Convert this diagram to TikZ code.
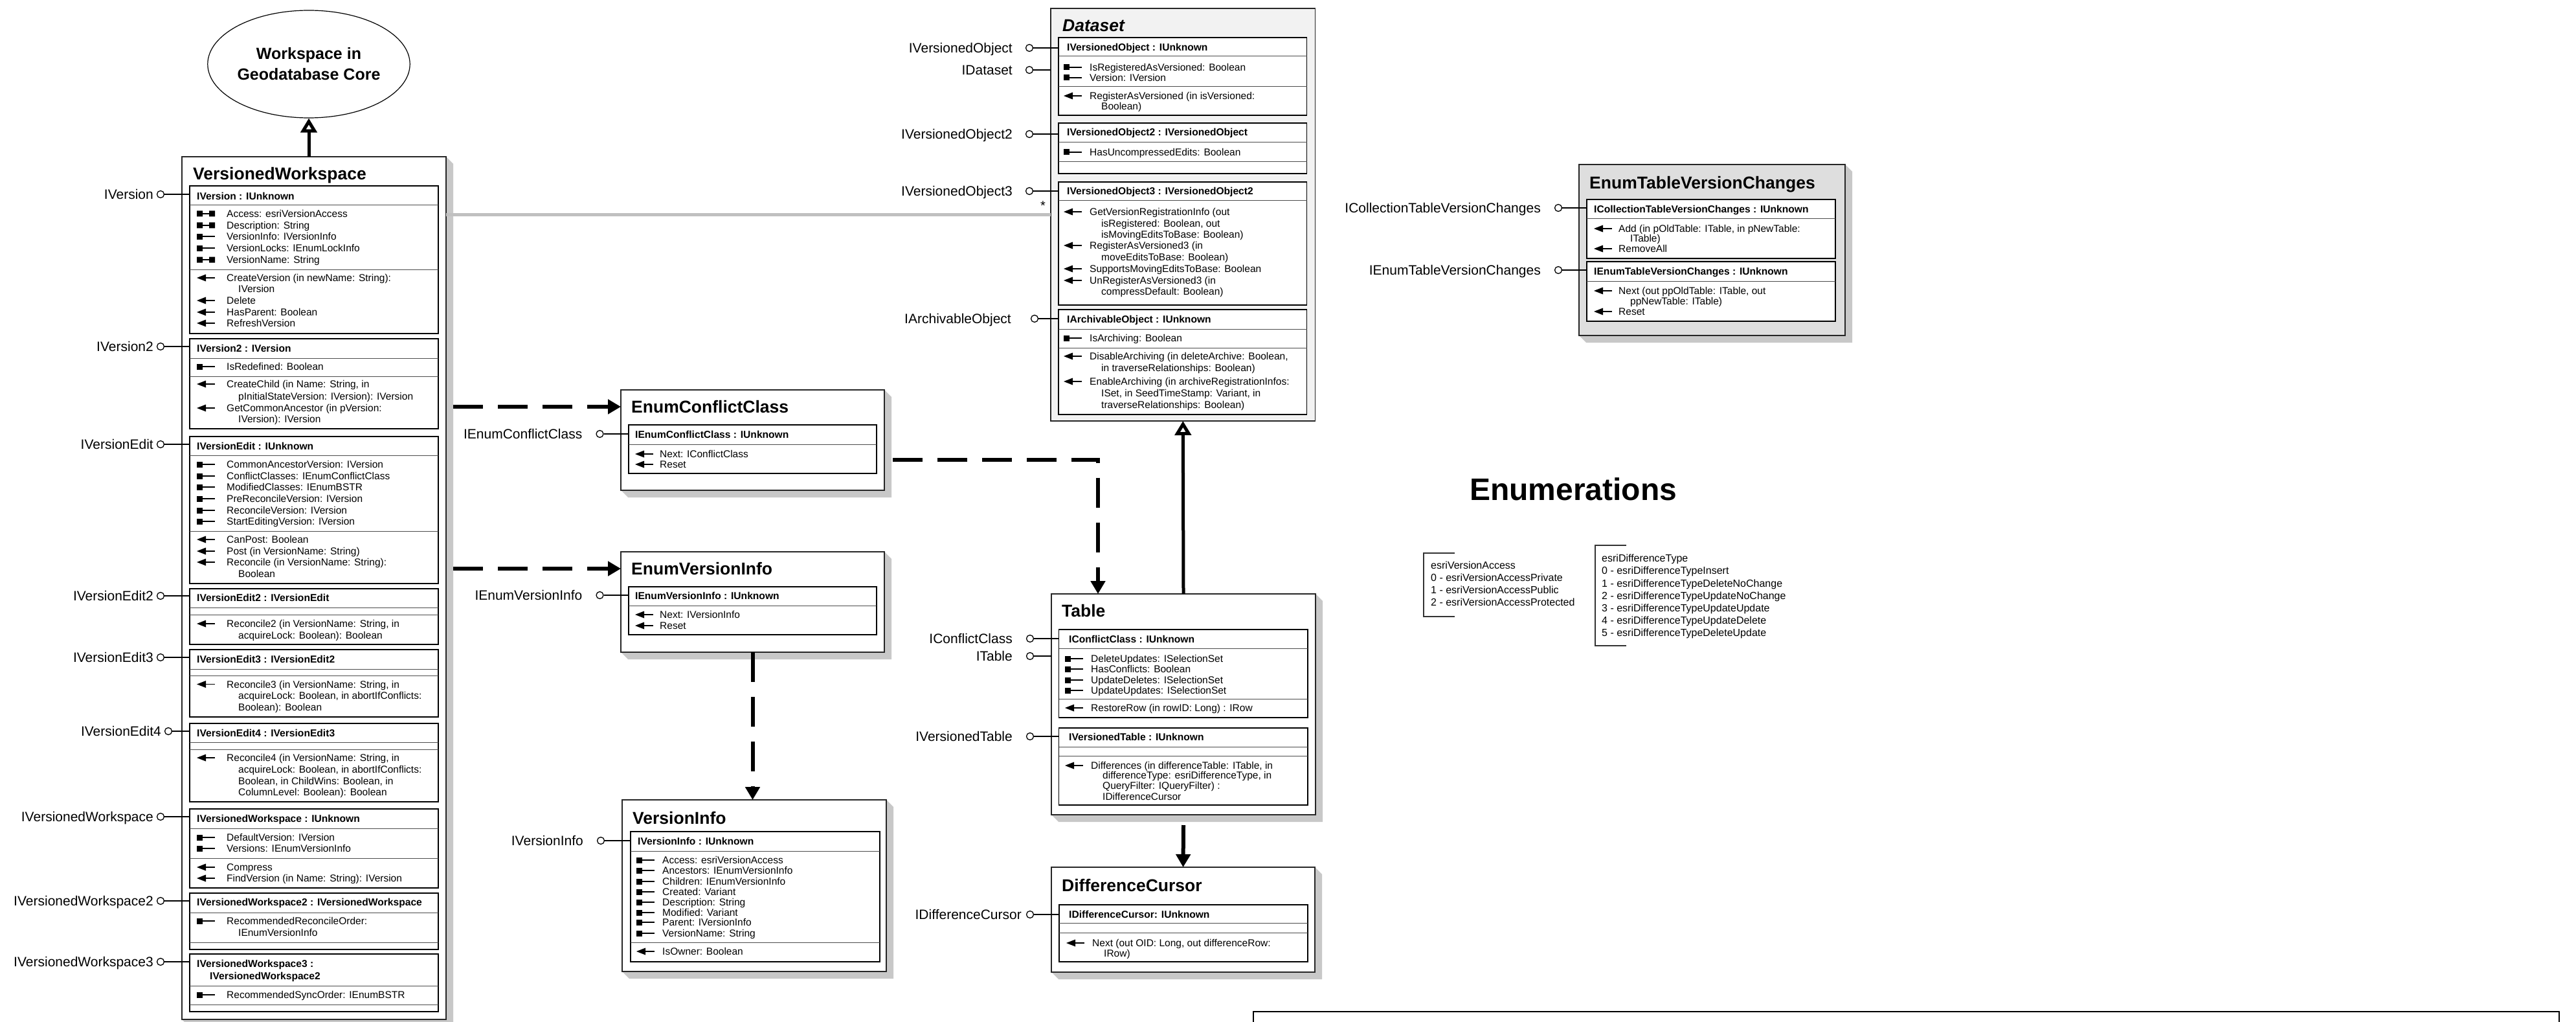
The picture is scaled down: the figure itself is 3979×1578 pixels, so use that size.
\documentclass[tikz,border=0pt]{standalone}
\usepackage{fontspec}
\setmainfont{Liberation Sans}
\usetikzlibrary{arrows.meta,shapes.geometric,backgrounds}
\definecolor{shadowgray}{HTML}{C8C8C8}
\definecolor{dsgray}{HTML}{F2F2F2}
\definecolor{enumgray}{HTML}{DEDEDE}
\definecolor{assocgray}{HTML}{C0C0C0}

\newcounter{mline}
\def\tgap{40}
\newcommand{\mem}[4]{\stepcounter{mline}\pic at (#1,#2) {#3};
  \node[mem] (m\themline) at ({#1+\tgap},#2) {#4};}
\newcommand{\cont}[3]{\stepcounter{mline}\node[mem] (m\themline) at ({#1+\tgap+18},#2) {#3};}
\newcommand{\lolli}[6]{\node[lolc] (#1) at (#4,#5) {};
  \node[lbl, anchor=east] (#1L) at (#3,#5) {#2};
  \draw[lolline] (#1) -- (#1 -| #6.west);}
\newcommand{\ifc}[6]{\node[ifb, minimum width={#3-#2}, minimum height={#5-#4}] (#1) at (#2,#4) {};
  \foreach \s in {#6} \draw[sepl] (#1.west |- 0,\s) -- (#1.east |- 0,\s);}
\newcommand{\cls}[6]{\node[clsb, fill=#6, minimum width={#4-#2}, minimum height={#5-#3}] (#1) at (#2,#3) {};}
\newcommand{\shd}[1]{\begin{scope}[on background layer]
  \fill[shd] (#1.north east) -- ([shift={(11,11)}]#1.north east) -- ([shift={(11,11)}]#1.south east)
    -- ([shift={(11,11)}]#1.south west) -- (#1.south west) -- (#1.south east) -- cycle;
  \end{scope}}

\begin{document}
\begin{tikzpicture}[x=1pt, y=-1pt,
  mem/.style={anchor=west, inner sep=0pt, font=\fontsize{15.5}{18}\selectfont, text height=12pt, text depth=1pt},
  hdr/.style={mem, font=\fontsize{15.6}{18}\selectfont\bfseries},
  lbl/.style={inner sep=0pt, font=\fontsize{21}{25}\selectfont, text height=15.5pt, text depth=0.5pt},
  ttl/.style={anchor=west, inner sep=0pt, font=\fontsize{26.5}{30}\selectfont\bfseries, text height=19.5pt, text depth=0.5pt},
  enm/.style={anchor=west, inner sep=0pt, font=\fontsize{16}{19}\selectfont, text height=12pt, text depth=0.5pt},
  clsb/.style={draw=black!85, line width=1.3pt, anchor=north west, inner sep=0pt, outer sep=0pt},
  ifb/.style={draw, line width=1.8pt, fill=white, anchor=north west, inner sep=0pt, outer sep=0pt},
  sepl/.style={line width=1pt, black!70},
  shd/.style={fill=shadowgray},
  lolc/.style={circle, draw, line width=1.3pt, minimum size=11pt, inner sep=0pt, fill=white},
  lolline/.style={line width=1.5pt},
  dep/.style={line width=6pt, dash pattern=on 46pt off 23pt, -{Triangle[length=20pt,width=22pt]}},
  solidarr/.style={line width=6pt, -{Triangle[length=20pt,width=22pt]}},
  inh/.style={line width=5pt, -{Triangle[open,length=22pt,width=25pt]}},
  assoc/.style={line width=5pt, assocgray},
  brk/.style={line width=1.3pt, black!80},
  pget/.pic={\fill (0,-4.5) rectangle (9,4.5); \draw[line width=1.5pt] (9,0) -- (28,0);},
  prw/.pic={\fill (0,-4.5) rectangle (9,4.5) (19,-4.5) rectangle (28,4.5); \draw[line width=1.5pt] (9,0) -- (19,0);},
  pmth/.pic={\fill (0,0) -- (14,-5.5) -- (14,5.5) -- cycle; \draw[line width=1.5pt] (13,0) -- (28,0);}]
\useasboundingbox (0,0) rectangle (3979,1578);

\node[ellipse, draw, line width=1.2pt, minimum width=312pt, minimum height=166pt, inner sep=0pt, align=center,
  font=\fontsize{25}{32}\selectfont\bfseries] (core) at (477,99) {Workspace in\\Geodatabase Core};

\cls{vw}{281}{242}{689}{1574}{white}\shd{vw}
\node[ttl] (vwT) at (298,268) {VersionedWorkspace};
\def\tgap{46}
\ifc{bIVersion}{293}{677}{287}{515}{317,416}
\node[hdr] (hIVersion) at (304,303) {IVersion : IUnknown};
\mem{304}{330}{prw}{Access: esriVersionAccess}
\mem{304}{348}{prw}{Description: String}
\mem{304}{365}{pget}{VersionInfo: IVersionInfo}
\mem{304}{383}{pget}{VersionLocks: IEnumLockInfo}
\mem{304}{401}{prw}{VersionName: String}
\mem{304}{429}{pmth}{CreateVersion (in newName: String):}
\cont{304}{446}{IVersion}
\mem{304}{464}{pmth}{Delete}
\mem{304}{482}{pmth}{HasParent: Boolean}
\mem{304}{499}{pmth}{RefreshVersion}
\lolli{lIVersion}{IVersion}{237}{248}{300}{bIVersion}

\ifc{bIVersion2}{293}{677}{523}{662}{553,581}
\node[hdr] (hIVersion2) at (304,537.5) {IVersion2 : IVersion};
\mem{304}{566}{pget}{IsRedefined: Boolean}
\mem{304}{593}{pmth}{CreateChild (in Name: String, in}
\cont{304}{612}{pInitialStateVersion: IVersion): IVersion}
\mem{304}{630}{pmth}{GetCommonAncestor (in pVersion:}
\cont{304}{647}{IVersion): IVersion}
\lolli{lIVersion2}{IVersion2}{237}{248}{535}{bIVersion2}

\ifc{bIVersionEdit}{293}{677}{674}{901}{703,820}
\node[hdr] (hIVersionEdit) at (304,689) {IVersionEdit : IUnknown};
\mem{304}{717}{pget}{CommonAncestorVersion: IVersion}
\mem{304}{735}{pget}{ConflictClasses: IEnumConflictClass}
\mem{304}{752}{pget}{ModifiedClasses: IEnumBSTR}
\mem{304}{770}{pget}{PreReconcileVersion: IVersion}
\mem{304}{788}{pget}{ReconcileVersion: IVersion}
\mem{304}{805}{pget}{StartEditingVersion: IVersion}
\mem{304}{833}{pmth}{CanPost: Boolean}
\mem{304}{851}{pmth}{Post (in VersionName: String)}
\mem{304}{868}{pmth}{Reconcile (in VersionName: String):}
\cont{304}{886}{Boolean}
\lolli{lIVersionEdit}{IVersionEdit}{237}{248}{686}{bIVersionEdit}

\ifc{bIVersionEdit2}{293}{677}{909}{995}{938,949}
\node[hdr] (hIVersionEdit2) at (304,923) {IVersionEdit2 : IVersionEdit};
\mem{304}{963}{pmth}{Reconcile2 (in VersionName: String, in}
\cont{304}{981}{acquireLock: Boolean): Boolean}
\lolli{lIVersionEdit2}{IVersionEdit2}{237}{248}{920}{bIVersionEdit2}

\ifc{bIVersionEdit3}{293}{677}{1003}{1107}{1033,1043}
\node[hdr] (hIVersionEdit3) at (304,1018) {IVersionEdit3 : IVersionEdit2};
\mem{304}{1056.5}{pmth}{Reconcile3 (in VersionName: String, in}
\cont{304}{1074}{acquireLock: Boolean, in abortIfConflicts:}
\cont{304}{1091.5}{Boolean): Boolean}
\lolli{lIVersionEdit3}{IVersionEdit3}{237}{248}{1015}{bIVersionEdit3}

\ifc{bIVersionEdit4}{293}{677}{1117}{1238}{1146,1157}
\node[hdr] (hIVersionEdit4) at (304,1132) {IVersionEdit4 : IVersionEdit3};
\mem{304}{1170}{pmth}{Reconcile4 (in VersionName: String, in}
\cont{304}{1188}{acquireLock: Boolean, in abortIfConflicts:}
\cont{304}{1206}{Boolean, in ChildWins: Boolean, in}
\cont{304}{1223}{ColumnLevel: Boolean): Boolean}
\lolli{lIVersionEdit4}{IVersionEdit4}{249}{260}{1129}{bIVersionEdit4}

\ifc{bIVersionedWorkspace}{293}{677}{1249}{1371}{1279,1325}
\node[hdr] (hIVersionedWorkspace) at (304,1264) {IVersionedWorkspace : IUnknown};
\mem{304}{1293}{pget}{DefaultVersion: IVersion}
\mem{304}{1310}{pget}{Versions: IEnumVersionInfo}
\mem{304}{1339}{pmth}{Compress}
\mem{304}{1356}{pmth}{FindVersion (in Name: String): IVersion}
\lolli{lIVersionedWorkspace}{IVersionedWorkspace}{237}{248}{1261}{bIVersionedWorkspace}

\ifc{bIVersionedWorkspace2}{293}{677}{1379}{1466}{1409,1455}
\node[hdr] (hIVersionedWorkspace2) at (304,1393) {IVersionedWorkspace2 : IVersionedWorkspace};
\mem{304}{1422}{pget}{RecommendedReconcileOrder:}
\cont{304}{1440}{IEnumVersionInfo}
\lolli{lIVersionedWorkspace2}{IVersionedWorkspace2}{237}{248}{1391}{bIVersionedWorkspace2}

\ifc{bIVersionedWorkspace3}{293}{677}{1473}{1562}{1522,1551}
\node[hdr] (hIVersionedWorkspace3) at (304,1488) {IVersionedWorkspace3 :};
\node[hdr] (hIVersionedWorkspace3b) at (324,1507) {IVersionedWorkspace2};
\mem{304}{1536}{pget}{RecommendedSyncOrder: IEnumBSTR}
\lolli{lIVersionedWorkspace3}{IVersionedWorkspace3}{237}{248}{1485}{bIVersionedWorkspace3}

\cls{ds}{1623}{13}{2031.5}{650}{dsgray}
\node[ttl, font=\fontsize{26.5}{30}\selectfont\bfseries\itshape] (dsT) at (1641,39) {Dataset};
\def\tgap{40}
\ifc{bIVersionedObject}{1634.6}{2018.5}{58}{178}{87,134}
\node[hdr] (hIVersionedObject) at (1648,73) {IVersionedObject : IUnknown};
\mem{1643}{104}{pget}{IsRegisteredAsVersioned: Boolean}
\mem{1643}{120}{pget}{Version: IVersion}
\mem{1643}{148}{pmth}{RegisterAsVersioned (in isVersioned:}
\cont{1643}{164}{Boolean)}
\lolli{lIVersionedObject}{IVersionedObject}{1564}{1590}{74}{bIVersionedObject}
\lolli{lIDataset}{IDataset}{1564}{1590}{108}{ds}

\ifc{bIVersionedObject2}{1634.6}{2018.5}{190}{268}{220,250}
\node[hdr] (hIVersionedObject2) at (1648,204) {IVersionedObject2 : IVersionedObject};
\mem{1643}{235}{pget}{HasUncompressedEdits: Boolean}
\lolli{lIVersionedObject2}{IVersionedObject2}{1564}{1590}{207}{bIVersionedObject2}

\ifc{bIVersionedObject3}{1634.6}{2018.5}{281}{471}{310}
\node[hdr] (hIVersionedObject3) at (1648,295) {IVersionedObject3 : IVersionedObject2};
\mem{1643}{327}{pmth}{GetVersionRegistrationInfo (out}
\cont{1643}{345}{isRegistered: Boolean, out}
\cont{1643}{362}{isMovingEditsToBase: Boolean)}
\mem{1643}{379}{pmth}{RegisterAsVersioned3 (in}
\cont{1643}{397}{moveEditsToBase: Boolean)}
\mem{1643}{415}{pmth}{SupportsMovingEditsToBase: Boolean}
\mem{1643}{433}{pmth}{UnRegisterAsVersioned3 (in}
\cont{1643}{450}{compressDefault: Boolean)}
\lolli{lIVersionedObject3}{IVersionedObject3}{1564}{1590}{295}{bIVersionedObject3}

\ifc{bIArchivableObject}{1634.6}{2018.5}{478}{640}{508,537}
\node[hdr] (hIArchivableObject) at (1648,493) {IArchivableObject : IUnknown};
\mem{1643}{522}{pget}{IsArchiving: Boolean}
\mem{1643}{550}{pmth}{DisableArchiving (in deleteArchive: Boolean,}
\cont{1643}{568}{in traverseRelationships: Boolean)}
\mem{1643}{589}{pmth}{EnableArchiving (in archiveRegistrationInfos:}
\cont{1643}{607}{ISet, in SeedTimeStamp: Variant, in}
\cont{1643}{625}{traverseRelationships: Boolean)}
\lolli{lIArchivableObject}{IArchivableObject}{1562}{1598}{492}{bIArchivableObject}

\def\tgap{38}
\cls{ecc}{959}{602}{1366}{757}{white}\shd{ecc}
\node[ttl] (eccT) at (975,628) {EnumConflictClass};
\ifc{bIEnumConflictClass}{971}{1354}{656}{731}{686}
\node[hdr] (hIEnumConflictClass) at (981,671) {IEnumConflictClass : IUnknown};
\mem{981}{701}{pmth}{Next: IConflictClass}
\mem{981}{717}{pmth}{Reset}
\lolli{lIEnumConflictClass}{IEnumConflictClass}{899.5}{926.5}{670}{bIEnumConflictClass}

\cls{evi}{959}{852}{1366}{1007}{white}\shd{evi}
\node[ttl] (eviT) at (975,878) {EnumVersionInfo};
\ifc{bIEnumVersionInfo}{971}{1354}{906}{980}{935}
\node[hdr] (hIEnumVersionInfo) at (981,920) {IEnumVersionInfo : IUnknown};
\mem{981}{949}{pmth}{Next: IVersionInfo}
\mem{981}{966}{pmth}{Reset}
\lolli{lIEnumVersionInfo}{IEnumVersionInfo}{899.5}{926.5}{919}{bIEnumVersionInfo}

\def\tgap{40}
\cls{vi}{961}{1235}{1369}{1500}{white}\shd{vi}
\node[ttl] (viT) at (977,1263) {VersionInfo};
\ifc{bIVersionInfo}{974}{1358.6}{1284}{1485}{1314,1455}
\node[hdr] (hIVersionInfo) at (985,1299) {IVersionInfo : IUnknown};
\mem{983}{1328}{pget}{Access: esriVersionAccess}
\mem{983}{1344}{pget}{Ancestors: IEnumVersionInfo}
\mem{983}{1361}{pget}{Children: IEnumVersionInfo}
\mem{983}{1377}{pget}{Created: Variant}
\mem{983}{1393}{pget}{Description: String}
\mem{983}{1409}{pget}{Modified: Variant}
\mem{983}{1424}{pget}{Parent: IVersionInfo}
\mem{983}{1441}{pget}{VersionName: String}
\mem{983}{1469}{pmth}{IsOwner: Boolean}
\lolli{lIVersionInfo}{IVersionInfo}{901}{928}{1298}{bIVersionInfo}

\cls{tbl}{1624}{917}{2032}{1258}{white}\shd{tbl}
\node[ttl] (tblT) at (1640,943) {Table};
\ifc{bIConflictClass}{1635.5}{2020}{972}{1108}{1001,1079}
\node[hdr] (hIConflictClass) at (1651,987) {IConflictClass : IUnknown};
\mem{1645}{1017}{pget}{DeleteUpdates: ISelectionSet}
\mem{1645}{1033}{pget}{HasConflicts: Boolean}
\mem{1645}{1050}{pget}{UpdateDeletes: ISelectionSet}
\mem{1645}{1066}{pget}{UpdateUpdates: ISelectionSet}
\mem{1645}{1093}{pmth}{RestoreRow (in rowID: Long) : IRow}
\lolli{lIConflictClass}{IConflictClass}{1564}{1591}{986}{bIConflictClass}
\lolli{lITable}{ITable}{1564}{1591}{1013}{tbl}
\ifc{bIVersionedTable}{1635.5}{2020}{1124}{1243}{1153,1167}
\node[hdr] (hIVersionedTable) at (1651,1138) {IVersionedTable : IUnknown};
\mem{1645}{1182}{pmth}{Differences (in differenceTable: ITable, in}
\cont{1645}{1197}{differenceType: esriDifferenceType, in}
\cont{1645}{1213}{QueryFilter: IQueryFilter) :}
\cont{1645}{1230}{IDifferenceCursor}
\lolli{lIVersionedTable}{IVersionedTable}{1564}{1591}{1137}{bIVersionedTable}

\cls{dc}{1624}{1339}{2031}{1501}{white}\shd{dc}
\node[ttl] (dcT) at (1640,1367) {DifferenceCursor};
\ifc{bIDifferenceCursor}{1636}{2020}{1397}{1485}{1425,1440}
\node[hdr] (hIDifferenceCursor) at (1651,1412) {IDifferenceCursor: IUnknown};
\mem{1647}{1456}{pmth}{Next (out OID: Long, out differenceRow:}
\cont{1647}{1472}{IRow)}
\lolli{lIDifferenceCursor}{IDifferenceCursor}{1578}{1591}{1412}{bIDifferenceCursor}

\def\tgap{38}
\cls{etvc}{2439}{254}{2850}{518}{enumgray}\shd{etvc}
\node[ttl] (etvcT) at (2455,282) {EnumTableVersionChanges};
\ifc{bICollectionTableVersionChanges}{2451}{2835}{308}{399}{338}
\node[hdr] (hICollectionTableVersionChanges) at (2462,323) {ICollectionTableVersionChanges : IUnknown};
\mem{2462}{353}{pmth}{Add (in pOldTable: ITable, in pNewTable:}
\cont{2462}{368}{ITable)}
\mem{2462}{384}{pmth}{RemoveAll}
\lolli{lICollectionTableVersionChanges}{ICollectionTableVersionChanges}{2380}{2407}{321}{bICollectionTableVersionChanges}
\ifc{bIEnumTableVersionChanges}{2451}{2835}{404}{496}{434}
\node[hdr] (hIEnumTableVersionChanges) at (2462,419) {IEnumTableVersionChanges : IUnknown};
\mem{2462}{449}{pmth}{Next (out ppOldTable: ITable, out}
\cont{2462}{465}{ppNewTable: ITable)}
\mem{2462}{481}{pmth}{Reset}
\lolli{lIEnumTableVersionChanges}{IEnumTableVersionChanges}{2380}{2407}{417}{bIEnumTableVersionChanges}

\node[inner sep=0pt, font=\fontsize{48}{50}\selectfont\bfseries] (enumT) at (2430,755) {Enumerations};
\draw[brk] (2247,854) -| (2199,952) -- (2247,952);
\foreach \t [count=\i from 0] in {esriVersionAccess, 0 - esriVersionAccessPrivate,
  1 - esriVersionAccessPublic, 2 - esriVersionAccessProtected}
  \node[enm] (ea\i) at (2210,{873+\i*19}) {\t};
\draw[brk] (2512,842) -| (2464,997) -- (2512,997);
\foreach \t [count=\i from 0] in {esriDifferenceType, 0 - esriDifferenceTypeInsert,
  1 - esriDifferenceTypeDeleteNoChange, 2 - esriDifferenceTypeUpdateNoChange,
  3 - esriDifferenceTypeUpdateUpdate, 4 - esriDifferenceTypeUpdateDelete,
  5 - esriDifferenceTypeDeleteUpdate}
  \node[enm] (ed\i) at (2474,{862+\i*19.2}) {\t};

\draw[line width=1.5pt] (1936,1562) rectangle (3953,1620);

\draw[inh] (core.south |- vw.north) -- (core.south);
\draw[inh] (tbl.north) -- (ds.south);
\draw[solidarr] ([yshift=-16pt]tbl.south) -- (dc.north);
\draw[dep] ([xshift=11pt]vw.east |- eccT) -- (ecc.west |- eccT);
\draw[dep] ([xshift=11pt]vw.east |- eviT) -- (evi.west |- eviT);
\draw[dep] (evi.south) -- (evi.south |- vi.north);
\draw[dep] ([shift={(13,30)}]ecc.east) -| ([xshift=-132pt]tbl.north);
\draw[assoc] (vw.east |- ds.west) -- (ds.west);
\node[inner sep=0pt, font=\fontsize{20}{24}\selectfont] (mult) at (1611,318) {*};
\end{tikzpicture}
\end{document}
